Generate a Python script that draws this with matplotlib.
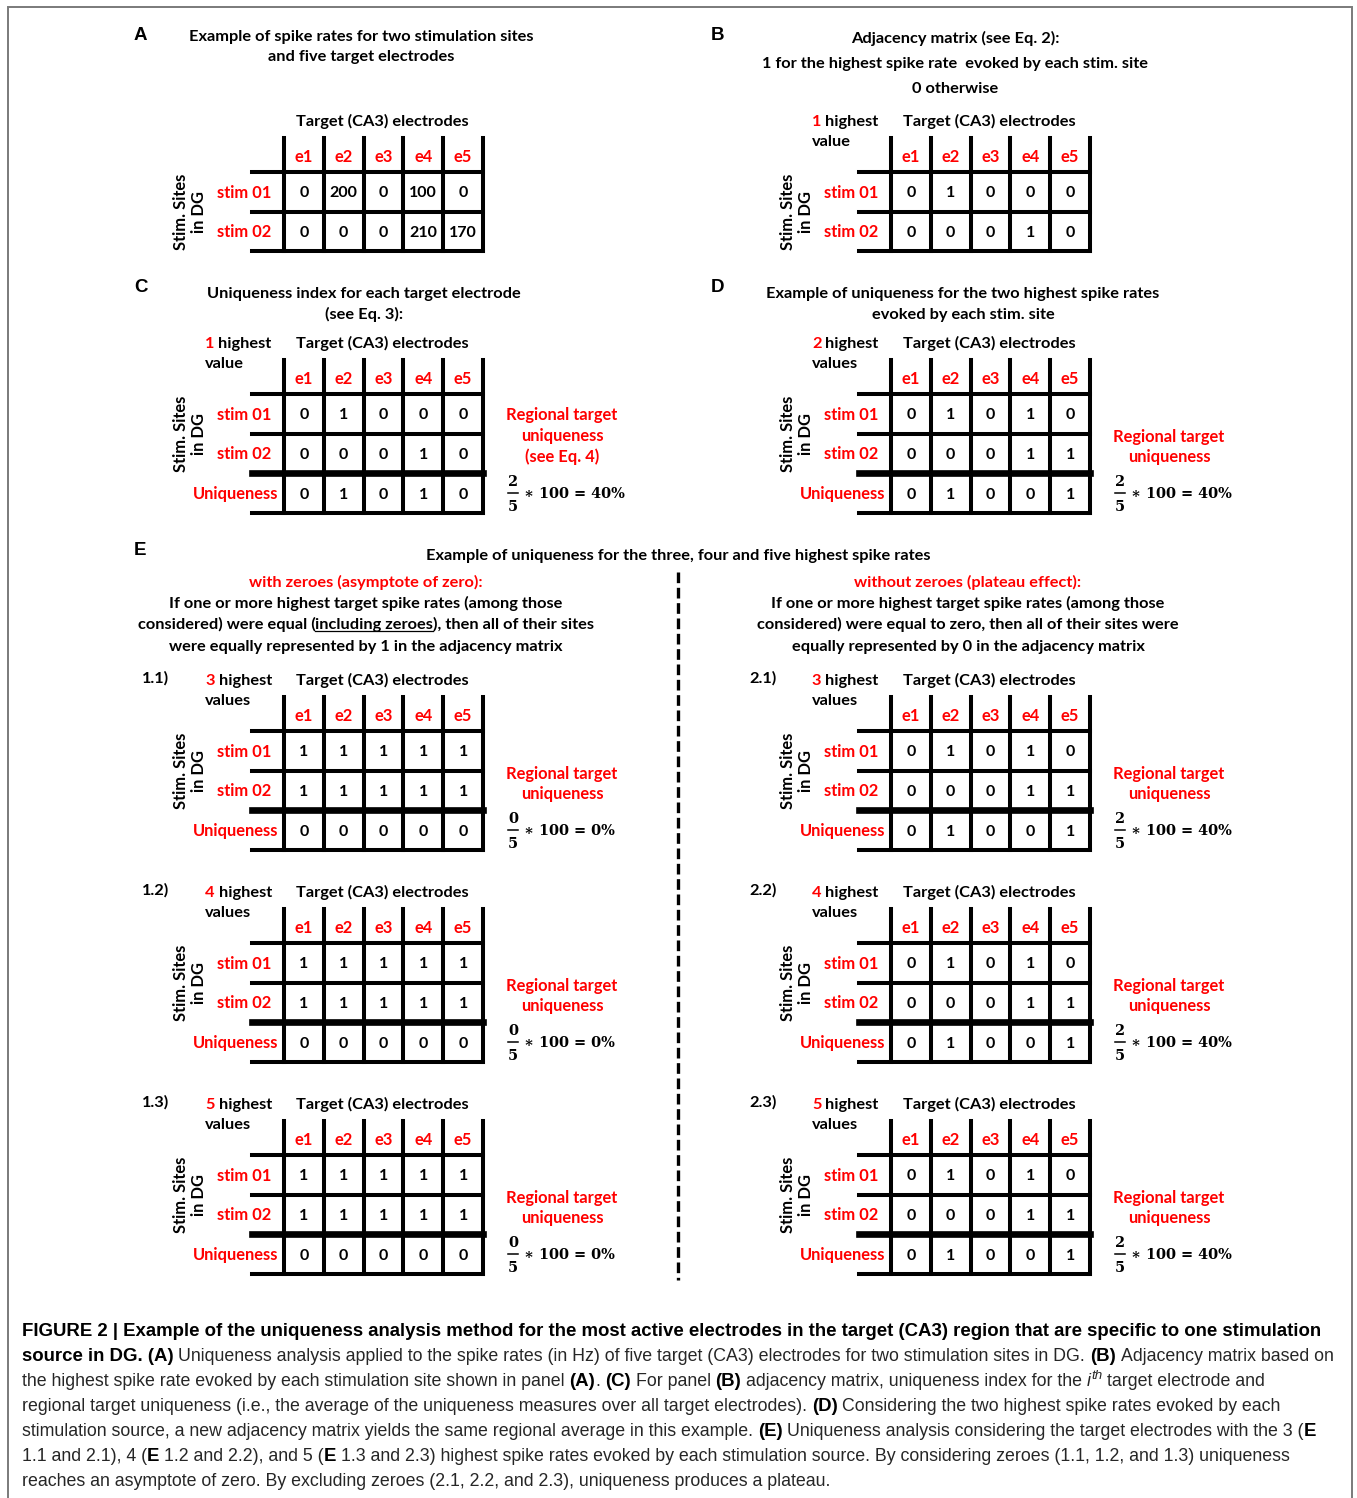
import matplotlib
matplotlib.use('Agg')
import matplotlib.pyplot as plt
from matplotlib import font_manager

# ---------------- data ----------------
electrodes = ['e1', 'e2', 'e3', 'e4', 'e5']
stim_sites = ['stim 01', 'stim 02']
spike_rates_hz = [[0, 200, 0, 100, 0],
                  [0, 0, 0, 210, 170]]
adjacency_1_highest = [[0, 1, 0, 0, 0],
                       [0, 0, 0, 1, 0]]
uniqueness_1_highest = [0, 1, 0, 1, 0]
adjacency_2_highest = [[0, 1, 0, 1, 0],
                       [0, 0, 0, 1, 1]]
uniqueness_2_highest = [0, 1, 0, 0, 1]
n_highest_E = [3, 4, 5]
adjacency_with_zeroes = [
    [[1, 1, 1, 1, 1], [1, 1, 1, 1, 1]],   # 3 highest
    [[1, 1, 1, 1, 1], [1, 1, 1, 1, 1]],   # 4 highest
    [[1, 1, 1, 1, 1], [1, 1, 1, 1, 1]],   # 5 highest
]
uniqueness_with_zeroes = [[0, 0, 0, 0, 0], [0, 0, 0, 0, 0], [0, 0, 0, 0, 0]]
adjacency_without_zeroes = [
    [[0, 1, 0, 1, 0], [0, 0, 0, 1, 1]],
    [[0, 1, 0, 1, 0], [0, 0, 0, 1, 1]],
    [[0, 1, 0, 1, 0], [0, 0, 0, 1, 1]],
]
uniqueness_without_zeroes = [[0, 1, 0, 0, 1], [0, 1, 0, 0, 1], [0, 1, 0, 0, 1]]
sub_labels_with = ['1.1)', '1.2)', '1.3)']
sub_labels_without = ['2.1)', '2.2)', '2.3)']

caption_lines = [
    [("FIGURE 2 | Example of the uniqueness analysis method for the most active electrodes in the target (CA3) region that are specific to one stimulation", 'b')],
    [("source in DG. (A)", 'b'), (" Uniqueness analysis applied to the spike rates (in Hz) of five target (CA3) electrodes for two stimulation sites in DG. ", 'r'), ("(B)", 'b'), (" Adjacency matrix based on", 'r')],
    [("the highest spike rate evoked by each stimulation site shown in panel ", 'r'), ("(A)", 'b'), (". ", 'r'), ("(C)", 'b'), (" For panel ", 'r'), ("(B)", 'b'), (" adjacency matrix, uniqueness index for the ", 'r'), ("i", 'i'), ("th", 'sup'), (" target electrode and", 'r')],
    [("regional target uniqueness (i.e., the average of the uniqueness measures over all target electrodes). ", 'r'), ("(D)", 'b'), (" Considering the two highest spike rates evoked by each", 'r')],
    [("stimulation source, a new adjacency matrix yields the same regional average in this example. ", 'r'), ("(E)", 'b'), (" Uniqueness analysis considering the target electrodes with the 3 (", 'r'), ("E", 'b')],
    [("1.1 and 2.1), 4 (", 'r'), ("E", 'b'), (" 1.2 and 2.2), and 5 (", 'r'), ("E", 'b'), (" 1.3 and 2.3) highest spike rates evoked by each stimulation source. By considering zeroes (1.1, 1.2, and 1.3) uniqueness", 'r')],
    [("reaches an asymptote of zero. By excluding zeroes (2.1, 2.2, and 2.3), uniqueness produces a plateau.", 'r')],
]
caption_line_right = [1322, 1340, 1311, 1293, 1330, 1311, 843]

# ---------------- setup ----------------
W, H = 1357, 1498
fig = plt.figure(figsize=(W / 100, H / 100), dpi=100)
ax = fig.add_axes([0, 0, 1, 1])
ax.set_xlim(0, W)
ax.set_ylim(H, 0)
ax.axis('off')
renderer = fig.canvas.get_renderer()

names = {f.name for f in font_manager.fontManager.ttflist}
BODY = 'Lato' if 'Lato' in names else 'DejaVu Sans'
CAP = 'Liberation Sans Narrow' if 'Liberation Sans Narrow' in names else 'Liberation Sans'
LETTER = 'Liberation Sans' if 'Liberation Sans' in names else 'DejaVu Sans'
SERIF = ['DejaVu Serif', 'DejaVu Sans']
RED = '#ff0000'
PX = 100 / 72.0


def text_width(s, kw):
    t = ax.text(0, 0, s, **kw)
    w = t.get_window_extent(renderer).width
    t.remove()
    return w


_sp = {}


def space_width(kw):
    key = tuple(sorted((k, str(v)) for k, v in kw.items()))
    if key not in _sp:
        _sp[key] = text_width('x x', kw) - text_width('xx', kw)
    return _sp[key]


def run_width(s, kw):
    core = s.strip(' ')
    n_sp = len(s) - len(core)
    return (text_width(core, kw) if core else 0) + n_sp * space_width(kw)


def draw_runs(x, y, runs, ha='left', size=11, family=None, weight='bold', color='black'):
    family = family or BODY
    items, total = [], 0.0
    for r in runs:
        if isinstance(r, str):
            r = {'text': r}
        kw = dict(fontsize=r.get('size', size), family=r.get('family', family),
                  fontweight=r.get('weight', weight), fontstyle=r.get('style', 'normal'),
                  color=r.get('color', color))
        s = r['text']
        core = s.strip(' ')
        lead = len(s) - len(s.lstrip(' '))
        trail = len(s) - len(s.rstrip(' ')) if core else 0
        sp = space_width(kw)
        w = text_width(core, kw) if core else 0
        items.append((core, kw, lead * sp, w, trail * sp, r))
        total += lead * sp + w + trail * sp
    cx = x - total / 2 if ha == 'center' else x
    for core, kw, l, w, t, r in items:
        cx += l
        if core:
            ax.text(cx, y + r.get('dy', 0), core, ha='left', va='baseline', **kw)
            if r.get('underline'):
                ax.plot([cx, cx + w], [y + 2.5, y + 2.5], color=kw['color'], lw=0.9)
        cx += w + t
    return total


def fit_size(pairs, kw):
    got = sum(text_width(s, dict(kw, fontsize=10)) for s, _ in pairs)
    want = sum(t for _, t in pairs)
    return 10 * want / got


TITLE = fit_size([("Example of spike rates for two stimulation sites", 347),
                  ("Example of uniqueness for the three, four and five highest spike rates", 506),
                  ("If one or more highest target spike rates (among those", 396),
                  ("Target (CA3) electrodes", 173),
                  ("Uniqueness index for each target electrode", 316)],
                 dict(family=BODY, fontweight='bold'))
LABEL = fit_size([("stim 01", 53), ("Uniqueness", 89), ("Regional target", 112), ("e1", 18)],
                 dict(family=BODY, fontweight='bold'))
VALUE = LABEL * 0.97
FRAC = fit_size([("∗ 100 = 40%", 102)], dict(family=SERIF, fontweight='bold'))


def bl(yc, size, k=0.35):
    return yc + k * size * PX


def T(x, yc, s, size=None, ha='center', color='black', weight='bold', family=None, **kw):
    size = size or TITLE
    ax.text(x, bl(yc, size), s, ha=ha, va='baseline', fontsize=size, color=color,
            fontweight=weight, family=family or BODY, **kw)


# frame
ax.plot([8, 8, 1352, 1352], [H + 10, 6.5, 6.5, H + 10], color='#7a7a7a', lw=1.4,
        solid_joinstyle='miter', clip_on=False)

# ---------------- tables ----------------
COL_W, HEAD_H, ROW_H = 39.8, 34, 39.6
LW, LW_THICK = 2.9, 4.8


def draw_table(x0, yh, matrix, uniq=None):
    nrows = len(matrix) + (1 if uniq is not None else 0)
    ylines = [yh + HEAD_H + i * ROW_H for i in range(nrows + 1)]
    bottom = ylines[-1]
    xr = x0 + len(electrodes) * COL_W
    for j in range(len(electrodes) + 1):
        xx = x0 + j * COL_W
        ax.plot([xx, xx], [yh, bottom], color='black', lw=LW, solid_capstyle='projecting')
    for i, yy in enumerate(ylines):
        lw = LW_THICK if (uniq is not None and i == len(matrix)) else LW
        ax.plot([x0 - 32, xr], [yy, yy], color='black', lw=lw, solid_capstyle='projecting')
    for j, e in enumerate(electrodes):
        T(x0 + (j + 0.5) * COL_W, yh + HEAD_H / 2 + 1, e, size=LABEL, color=RED)
    for i, row in enumerate(matrix):
        yc = yh + HEAD_H + (i + 0.5) * ROW_H
        T(x0 - 13, yc, stim_sites[i], size=LABEL, ha='right', color=RED)
        for j, v in enumerate(row):
            T(x0 + (j + 0.5) * COL_W, yc, str(v), size=VALUE)
    if uniq is not None:
        yc = yh + HEAD_H + (len(matrix) + 0.5) * ROW_H
        T(x0 - 6, yc, 'Uniqueness', size=LABEL, ha='right', color=RED)
        for j, v in enumerate(uniq):
            T(x0 + (j + 0.5) * COL_W, yc, str(v), size=VALUE)
    ax.text(x0 - 94, yh + HEAD_H + len(matrix) * ROW_H / 2, 'Stim. Sites\nin DG', rotation=90,
            ha='center', va='center', multialignment='center', fontsize=LABEL,
            fontweight='bold', family=BODY, linespacing=1.15)
    T(x0 + 98, yh - 18, 'Target (CA3) electrodes', size=TITLE)


def draw_highest(x0, yh, n):
    draw_runs(x0 - 79, bl(yh - 18, TITLE), [{'text': str(n), 'color': RED}, ' highest'], size=TITLE)
    T(x0 - 79, yh + 2, 'value' if n == 1 else 'values', ha='left')


def draw_fraction(x0, yh, uniq, lines):
    xr = x0 + 278
    for k, (dy, s) in enumerate(lines):
        T(xr, yh + dy, s, size=LABEL, color=RED)
    num, den = sum(uniq), len(uniq)
    pct = int(round(100 * num / den))
    yc = yh + HEAD_H + 2.5 * ROW_H
    xf = x0 + 229
    kw = dict(family=SERIF, fontweight='bold', fontsize=FRAC, color='black', va='baseline')
    ax.text(xf, bl(yc - 12, FRAC, 0.36), str(num), ha='center', **kw)
    ax.text(xf, bl(yc + 13, FRAC, 0.36), str(den), ha='center', **kw)
    ax.plot([xf - 5, xf + 5], [yc, yc], color='black', lw=1.1)
    ax.text(xf + 11, bl(yc, FRAC, 0.36), '∗ 100 = %d%%' % pct, ha='left', **kw)


def letter(x, yc, s):
    size = 13.5
    ax.text(x, bl(yc, size, 0.36), s, ha='center', va='baseline', fontsize=size,
            fontweight='bold', family=LETTER)


# ---- Panel A ----
letter(140, 33, 'A')
T(361, 35, 'Example of spike rates for two stimulation sites')
T(361, 55, 'and five target electrodes')
draw_table(284, 138, spike_rates_hz)

# ---- Panel B ----
letter(718, 33, 'B')
T(955, 37, 'Adjacency matrix (see Eq. 2):')
T(955, 62, '1 for the highest spike rate  evoked by each stim. site')
T(955, 87, '0 otherwise')
draw_table(891, 138, adjacency_1_highest)
draw_highest(891, 138, 1)

# ---- Panel C ----
letter(141, 285, 'C')
T(364, 292, 'Uniqueness index for each target electrode')
T(364, 313, '(see Eq. 3):')
draw_table(284, 360, adjacency_1_highest, uniqueness_1_highest)
draw_highest(284, 360, 1)
draw_fraction(284, 360, uniqueness_1_highest,
              [(54, 'Regional target'), (75, 'uniqueness'), (96, '(see Eq. 4)')])

# ---- Panel D ----
letter(718, 285, 'D')
T(963, 292, 'Example of uniqueness for the two highest spike rates')
T(963, 313, 'evoked by each stim. site')
draw_table(891, 360, adjacency_2_highest, uniqueness_2_highest)
draw_highest(891, 360, 2)
draw_fraction(891, 360, uniqueness_2_highest, [(76, 'Regional target'), (96, 'uniqueness')])

# ---- Panel E ----
letter(140, 548, 'E')
T(678, 554, 'Example of uniqueness for the three, four and five highest spike rates')
ax.plot([678, 678], [572, 1280], color='black', lw=2.4, dashes=[3.2, 1.4])

T(366, 581, 'with zeroes (asymptote of zero):', color=RED)
T(366, 602, 'If one or more highest target spike rates (among those')
draw_runs(366, bl(623, TITLE), ['considered) were equal (', {'text': 'including zeroes', 'underline': True},
                                '), then all of their sites'], ha='center', size=TITLE)
T(366, 645, 'were equally represented by 1 in the adjacency matrix')

T(968, 581, 'without zeroes (plateau effect):', color=RED)
T(968, 602, 'If one or more highest target spike rates (among those')
T(968, 623, 'considered) were equal to zero, then all of their sites were')
T(968, 645, 'equally represented by 0 in the adjacency matrix')

E_rows_top = [697, 909, 1121]
for k, yh in enumerate(E_rows_top):
    for x0, adj, uq, lab in [(284, adjacency_with_zeroes[k], uniqueness_with_zeroes[k], sub_labels_with[k]),
                             (891, adjacency_without_zeroes[k], uniqueness_without_zeroes[k], sub_labels_without[k])]:
        draw_table(x0, yh, adj, uq)
        draw_highest(x0, yh, n_highest_E[k])
        T(x0 - 142, yh - 20, lab, ha='left')
        draw_fraction(x0, yh, uq, [(76, 'Regional target'), (96, 'uniqueness')])

# ---------------- caption ----------------
CAP_X = 22
CAP_BOLD = fit_size([(caption_lines[0][0][0], caption_line_right[0] - CAP_X)],
                    dict(family=CAP, fontweight='bold')) * 1.006
# fit regular size over lines 2-7 given the bold runs
bold_kw = dict(family=CAP, fontweight='bold', fontsize=CAP_BOLD)
reg_kw10 = dict(family=CAP, fontweight='normal', fontsize=10)
want_reg, got_reg = 0.0, 0.0
for line, right in zip(caption_lines[1:], caption_line_right[1:]):
    bw = sum(run_width(s, bold_kw) for s, st in line if st == 'b')
    want_reg += right - CAP_X - bw
    got_reg += sum(run_width(s, dict(reg_kw10, fontsize=7 if st == 'sup' else 10,
                                     fontstyle='italic' if st in ('i', 'sup') else 'normal'))
                   for s, st in line if st != 'b')
CAP_REG = 10 * want_reg / got_reg * 0.99

STY = {'b': dict(weight='bold', color='black', size=CAP_BOLD),
       'r': dict(weight='normal', color='#262626', size=CAP_REG),
       'i': dict(weight='normal', color='#262626', style='italic', size=CAP_REG),
       'sup': dict(weight='normal', color='#262626', style='italic', size=CAP_REG * 0.75,
                   dy=-0.42 * CAP_REG * PX)}

for i, line in enumerate(caption_lines):
    yc = 1330 + i * 25.0
    runs = [dict(text=s, **STY[st]) for s, st in line]
    draw_runs(CAP_X, bl(yc, CAP_REG, 0.36), runs, ha='left', size=CAP_REG, family=CAP)

fig.savefig('out.png', dpi=100)
